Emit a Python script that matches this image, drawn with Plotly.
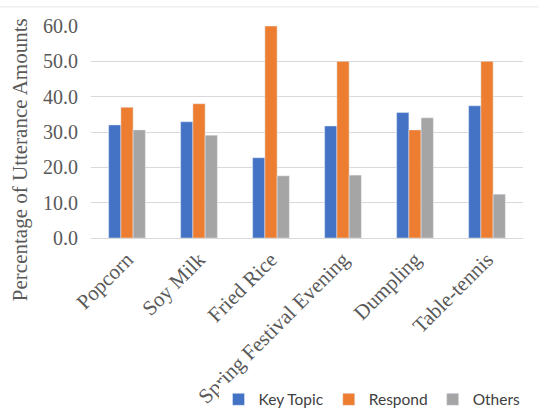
import plotly.graph_objects as go

categories = ["Popcorn", "Soy Milk", "Fried Rice", "Spring Festival Evening", "Dumpling", "Table-tennis"]
key_topic = [32.0, 32.9, 22.7, 31.7, 35.5, 37.4]
respond = [37.0, 38.0, 60.0, 50.0, 30.6, 50.0]
others = [30.6, 29.1, 17.6, 17.8, 34.0, 12.4]
tick_vals = [0, 10, 20, 30, 40, 50, 60]
tick_text = ["0.0", "10.0", "20.0", "30.0", "40.0", "50.0", "60.0"]
y_title = "Percentage of Utterance Amounts"

SERIF = "Liberation Serif"

fig = go.Figure()
fig.add_bar(x=categories, y=key_topic, name="Key Topic", marker_color="#4472C4")
fig.add_bar(x=categories, y=respond, name="Respond", marker_color="#ED7D31")
fig.add_bar(x=categories, y=others, name="Others", marker_color="#A5A5A5")

fig.update_layout(
    width=539, height=413,
    margin=dict(l=91, r=16, t=26, b=175, autoexpand=False),
    paper_bgcolor="white", plot_bgcolor="white",
    barmode="group", bargap=0.49, bargroupgap=0,
    font=dict(family=SERIF, color="#595959"),
    showlegend=True,
    legend=dict(orientation="h", xref="container", yref="container",
                x=0.975, xanchor="right", y=0.032, yanchor="middle",
                font=dict(family="Lato", size=15.5, color="#404040"),
                itemwidth=30, traceorder="normal"),
    xaxis=dict(tickangle=-45, tickfont=dict(family=SERIF, size=21, color="#595959"),
               showline=True, linecolor="#d9d9d9", linewidth=1, ticks="", automargin=False),
    yaxis=dict(range=[0, 60], tickvals=tick_vals, ticktext=tick_text,
               tickfont=dict(family=SERIF, size=20, color="#595959"),
               ticklabelstandoff=12, automargin=False,
               showgrid=True, gridcolor="#d9d9d9", gridwidth=1, zeroline=False),
)
fig.add_annotation(text=y_title, textangle=-90, xref="paper", yref="paper",
                   x=-0.164, y=0.368, xanchor="center", yanchor="middle", showarrow=False,
                   font=dict(family=SERIF, size=21, color="#595959"))
fig.add_shape(type="line", xref="paper", yref="paper", x0=-0.3, x1=1.1, y0=1.09, y1=1.09,
              line=dict(color="#e6e6e6", width=1))

fig.write_html("out.html")
